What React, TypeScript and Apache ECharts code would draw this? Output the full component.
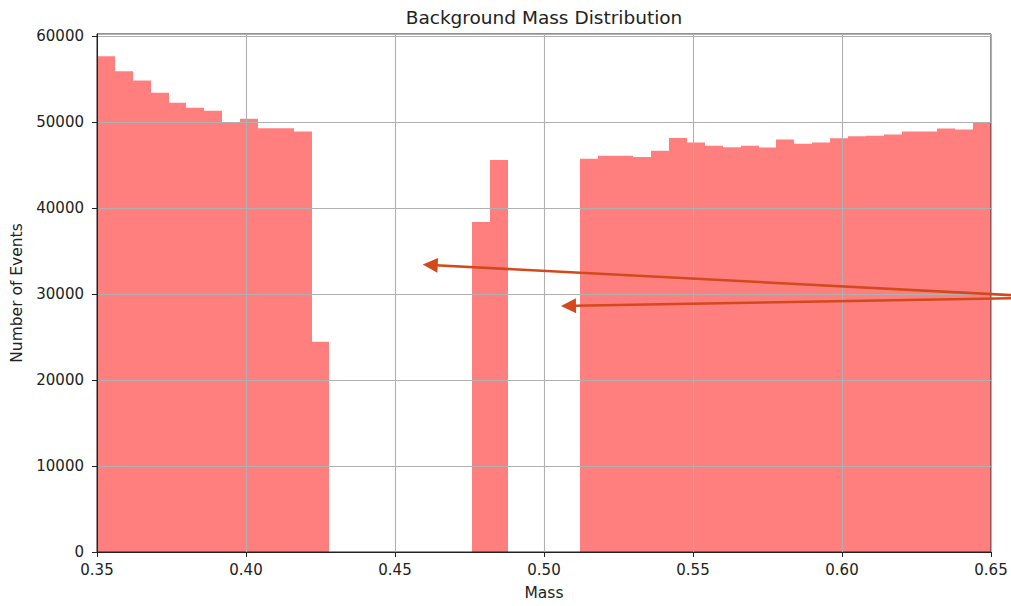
import React, { useEffect, useRef } from "react";
import * as echarts from "echarts";

// ---- data ----
const binWidth = 0.006;
const binLeft = [
  0.35, 0.356, 0.362, 0.368, 0.374, 0.38, 0.386, 0.392, 0.398, 0.404,
  0.41, 0.416, 0.422, 0.428, 0.434, 0.44, 0.446, 0.452, 0.458, 0.464,
  0.47, 0.476, 0.482, 0.488, 0.494, 0.5, 0.506, 0.512, 0.518, 0.524,
  0.53, 0.536, 0.542, 0.548, 0.554, 0.56, 0.566, 0.572, 0.578, 0.584,
  0.59, 0.596, 0.602, 0.608, 0.614, 0.62, 0.626, 0.632, 0.638, 0.644,
];
const counts = [
  57680, 55940, 54860, 53440, 52280, 51700, 51350, 50000, 50420, 49310,
  49310, 48940, 24460, 0, 0, 0, 0, 0, 0, 0,
  0, 38390, 45600, 0, 0, 0, 0, 45750, 46100, 46100,
  45950, 46680, 48180, 47650, 47260, 47100, 47260, 47070, 48000, 47500,
  47650, 48150, 48380, 48420, 48570, 48920, 48920, 49270, 49150, 49920,
];
const xTicks = [0.35, 0.4, 0.45, 0.5, 0.55, 0.6, 0.65];
const yTicks = [0, 10000, 20000, 30000, 40000, 50000, 60000];
const titleText = "Background Mass Distribution";
const xName = "Mass";
const yName = "Number of Events";

const FONT = "'DejaVu Sans', sans-serif";
const ARROW = "#d4491b";

function arrow(from: number[], tip: number[]) {
  const dx = tip[0] - from[0];
  const dy = tip[1] - from[1];
  const len = Math.sqrt(dx * dx + dy * dy);
  const ux = dx / len;
  const uy = dy / len;
  const headLen = 15;
  const halfW = 7.5;
  const bx = tip[0] - ux * headLen;
  const by = tip[1] - uy * headLen;
  const px = -uy;
  const py = ux;
  return [
    {
      type: "line",
      z: 100,
      shape: { x1: from[0], y1: from[1], x2: bx + ux * 2, y2: by + uy * 2 },
      style: { stroke: ARROW, lineWidth: 2.6 },
    },
    {
      type: "polygon",
      z: 100,
      shape: {
        points: [
          [tip[0], tip[1]],
          [bx + px * halfW, by + py * halfW],
          [bx - px * halfW, by - py * halfW],
        ],
      },
      style: { fill: ARROW },
    },
  ];
}

export default function App() {
  const ref = useRef<HTMLDivElement>(null);
  useEffect(() => {
    if (!ref.current) return;
    const chart = echarts.init(ref.current, undefined, { renderer: "svg" });
    const data = counts.map((c, i) => [binLeft[i], binLeft[i] + binWidth, c]);
    chart.setOption({
      animation: false,
      backgroundColor: "#ffffff",
      grid: {
        left: 97,
        right: 20,
        top: 34,
        bottom: 51,
        show: true,
        z: 3,
        backgroundColor: "transparent",
        borderColor: "#222",
        borderWidth: 1,
      },
      xAxis: {
        type: "value",
        min: 0.35,
        max: 0.65,
        interval: 0.05,
        z: 3,
        name: xName,
        nameLocation: "middle",
        nameGap: 33,
        nameTextStyle: { fontFamily: FONT, fontSize: 15.5, color: "#222" },
        axisLine: { show: true, onZero: false, lineStyle: { color: "#222", width: 1 } },
        axisTick: { show: true, length: 5, lineStyle: { color: "#222" } },
        axisLabel: {
          margin: 10,
          fontFamily: FONT,
          fontSize: 15,
          color: "#222",
          formatter: (v: number) => {
            const hit = xTicks.find((t) => Math.abs(t - v) < 1e-9);
            return hit === undefined ? "" : hit.toFixed(2);
          },
        },
        splitLine: { show: true, lineStyle: { color: "#b0b0b0", width: 1.1 } },
      },
      yAxis: {
        type: "value",
        min: 0,
        max: 60270,
        interval: 10000,
        z: 3,
        name: yName,
        nameLocation: "middle",
        nameGap: 72,
        nameTextStyle: { fontFamily: FONT, fontSize: 15.5, color: "#222" },
        axisLine: { show: true, lineStyle: { color: "#222", width: 1 } },
        axisTick: { show: true, length: 5, lineStyle: { color: "#222" } },
        axisLabel: {
          margin: 13,
          fontFamily: FONT,
          fontSize: 15,
          color: "#222",
          showMaxLabel: false,
          formatter: (v: number) =>
            yTicks.indexOf(Math.round(v)) >= 0 && Math.abs(v - Math.round(v)) < 1e-6
              ? String(Math.round(v))
              : "",
        },
        splitLine: { show: true, lineStyle: { color: "#b0b0b0", width: 1.1 } },
      },
      series: [
        {
          type: "custom",
          z: 1,
          data,
          renderItem: (params: any, api: any) => {
            const x0 = api.value(0);
            const x1 = api.value(1);
            const y = api.value(2);
            if (!y) return null;
            const p0 = api.coord([x0, y]);
            const p1 = api.coord([x1, 0]);
            const left = Math.round(p0[0]);
            const right = Math.round(p1[0]);
            return {
              type: "rect",
              shape: { x: left, y: p0[1], width: right - left, height: p1[1] - p0[1] },
              style: { fill: "rgba(255,0,0,0.5)" },
            };
          },
        },
      ],
      graphic: [
        {
          type: "text",
          x: 544,
          y: 17,
          z: 100,
          style: {
            text: titleText,
            fontFamily: FONT,
            fontSize: 18.5,
            fill: "#222",
            textAlign: "center",
            textVerticalAlign: "middle",
          },
        },
        ...arrow([1013, 295.2], [422.7, 264.6]),
        ...arrow([1013, 298.2], [561, 306]),
      ],
    });
    return () => chart.dispose();
  }, []);
  return (
    <div
      ref={ref}
      style={{ position: "fixed", left: 0, top: 0, width: 1011, height: 606 }}
    />
  );
}
